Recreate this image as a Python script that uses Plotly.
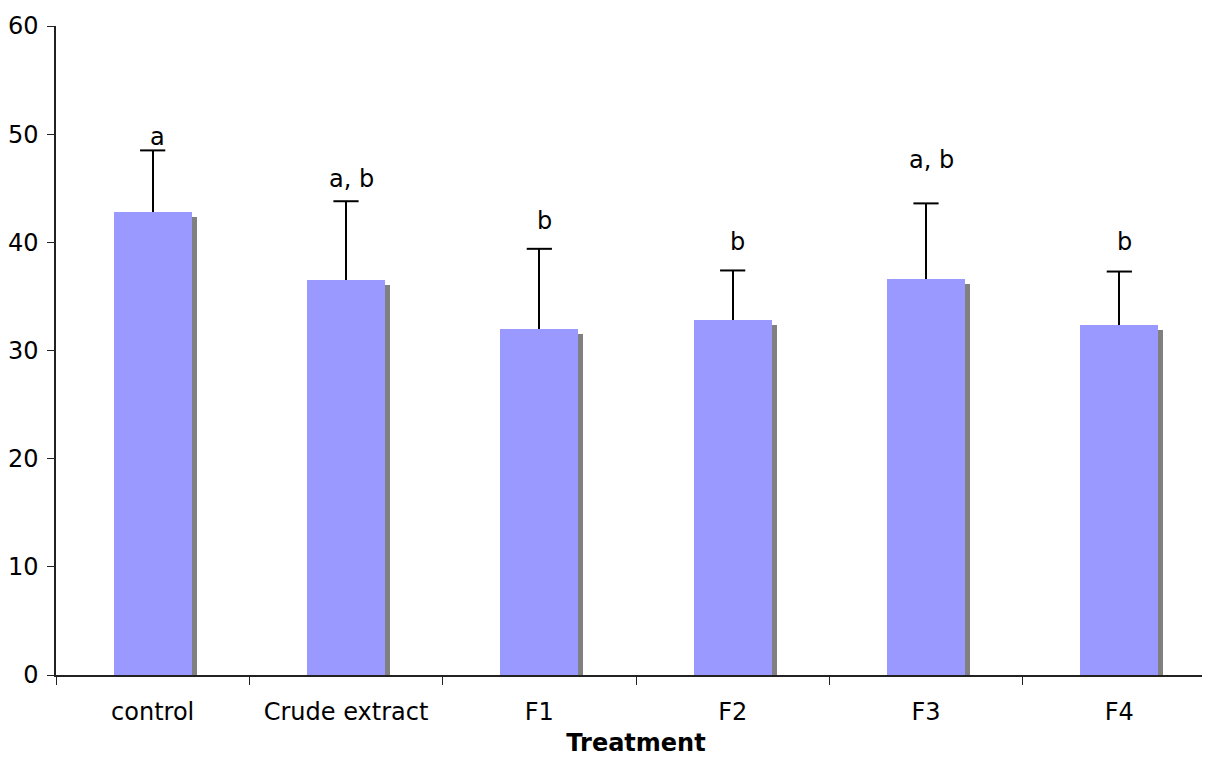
import plotly.graph_objects as go

categories = ["control", "Crude extract", "F1", "F2", "F3", "F4"]
means = [42.8, 36.5, 32.0, 32.8, 36.6, 32.4]
errors = [5.7, 7.3, 7.4, 4.6, 7.0, 4.9]
letters = ["a", "a, b", "b", "b", "a, b", "b"]
letter_y = [49.7, 45.9, 42.0, 40.0, 47.6, 40.0]
y_ticks = [0, 10, 20, 30, 40, 50, 60]

FONT = "DejaVu Sans, Verdana, sans-serif"
FS = 24
BAR_W = 0.403
SHADOW_DX = 0.026   # category units (~5 px)
SHADOW_DY = 0.46    # value units (~5 px)

fig = go.Figure()

# shadow bars
fig.add_trace(go.Bar(
    x=categories,
    y=[m - SHADOW_DY for m in means],
    width=BAR_W,
    offset=-BAR_W / 2 + SHADOW_DX,
    marker=dict(color="#808080", line=dict(width=0)),
    hoverinfo="skip",
    showlegend=False,
))

# main bars with upward error stems (no caps)
fig.add_trace(go.Bar(
    x=categories,
    y=means,
    width=BAR_W,
    offset=-BAR_W / 2,
    marker=dict(color="#9999FF", line=dict(width=0)),
    error_y=dict(type="data", array=errors, symmetric=False,
                 arrayminus=[0] * len(errors),
                 color="black", thickness=2, width=0),
    showlegend=False,
))

# top caps of error bars
fig.add_trace(go.Scatter(
    x=categories,
    y=[m + e for m, e in zip(means, errors)],
    mode="markers",
    marker=dict(symbol="line-ew", size=18, line=dict(color="black", width=2)),
    hoverinfo="skip",
    showlegend=False,
))

for c, t, yv in zip(categories, letters, letter_y):
    fig.add_annotation(x=c, y=yv, text=t, showarrow=False, xshift=5,
                       font=dict(family=FONT, size=FS, color="black"))

fig.update_layout(
    width=1210, height=760,
    margin=dict(l=48, r=2, t=18, b=93),
    paper_bgcolor="white", plot_bgcolor="white",
    barmode="overlay",
    bargap=0,
    font=dict(family=FONT, size=FS, color="black"),
    xaxis=dict(
        type="category",
        range=[-0.5, 5.5],
        tickson="boundaries",
        ticks="outside", ticklen=8, tickwidth=1, tickcolor="#222222",
        showline=True, linecolor="#222222", linewidth=1.5,
        showgrid=False,
        automargin=False,
        tickfont=dict(family=FONT, size=FS),
        ticklabelstandoff=14,
        title=dict(text="<b>Treatment</b>", font=dict(family=FONT, size=FS), standoff=10),
    ),
    yaxis=dict(
        range=[0, 60],
        tickvals=y_ticks,
        ticks="outside", ticklen=7, tickwidth=1, tickcolor="#222222",
        showline=True, linecolor="#222222", linewidth=1.5,
        showgrid=False, zeroline=False,
        automargin=False,
        tickfont=dict(family=FONT, size=FS),
        ticklabelstandoff=4,
    ),
)

fig.write_html("out.html")
